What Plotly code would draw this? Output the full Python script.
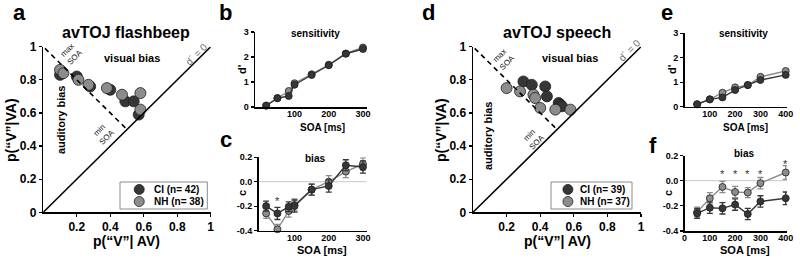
import plotly.graph_objects as go

W, H = 800, 258
FONT = "Arial, 'Liberation Sans', Helvetica, sans-serif"
DARK = "#363636"
GRAY = "#8c8c8c"
EDGE = "#1e1e1e"

# ---------------- data ----------------
# panel a: avTOJ flashbeep, p("V"|AV) vs p("V"|VA)
a_ci_x = [0.10, 0.11, 0.20, 0.28, 0.40, 0.49, 0.54, 0.57]
a_ci_y = [0.83, 0.85, 0.82, 0.76, 0.74, 0.67, 0.67, 0.59]
a_nh_x = [0.10, 0.12, 0.21, 0.27, 0.38, 0.47, 0.58, 0.58]
a_nh_y = [0.86, 0.84, 0.80, 0.77, 0.75, 0.71, 0.72, 0.62]

# panel d: avTOJ speech
d_ci_x = [0.30, 0.35, 0.43, 0.44, 0.51, 0.52, 0.53]
d_ci_y = [0.79, 0.77, 0.76, 0.70, 0.66, 0.65, 0.64]
d_nh_x = [0.20, 0.28, 0.36, 0.37, 0.40, 0.49, 0.58]
d_nh_y = [0.75, 0.73, 0.71, 0.69, 0.63, 0.62, 0.62]

# panels b, c: flashbeep sensitivity / bias
soa_fb = [17, 50, 83, 100, 150, 200, 250, 300]
b_ci = [0.05, 0.35, 0.44, 0.89, 1.28, 1.67, 2.13, 2.32]
b_nh = [0.06, 0.36, 0.64, 0.95, 1.31, 1.69, 2.14, 2.38]
c_ci = [-0.20, -0.26, -0.205, -0.20, -0.065, -0.035, 0.135, 0.12]
c_nh = [-0.26, -0.39, -0.24, -0.19, -0.065, 0.0, 0.083, 0.145]
c_ci_err = [0.04, 0.05, 0.04, 0.05, 0.045, 0.05, 0.045, 0.05]
c_nh_err = [0.04, 0.04, 0.05, 0.05, 0.045, 0.05, 0.05, 0.05]
sig_c_soa = [50]
sig_c_y = [-0.16]

# panels e, f: speech sensitivity / bias
soa_sp = [50, 100, 150, 200, 250, 300, 400]
e_ci = [0.10, 0.30, 0.38, 0.68, 0.89, 1.09, 1.30]
e_nh = [0.10, 0.30, 0.57, 0.79, 0.88, 1.22, 1.46]
f_ci = [-0.26, -0.215, -0.22, -0.19, -0.265, -0.165, -0.14]
f_nh = [-0.25, -0.14, -0.05, -0.09, -0.095, -0.02, 0.065]
f_ci_err = [0.04, 0.045, 0.045, 0.045, 0.045, 0.045, 0.05]
f_nh_err = [0.04, 0.045, 0.045, 0.045, 0.04, 0.045, 0.055]
sig_f_soa = [150, 200, 250, 300, 400]
sig_f_y = [0.055, 0.055, 0.055, 0.055, 0.135]

legend_a = ["CI (n= 42)", "NH (n= 38)"]
legend_d = ["CI (n= 39)", "NH (n= 37)"]


# ---------------- helpers ----------------
def fx(px):
    return px / W


def fy(py):
    return 1 - py / H


def axis(dom_px, rng, tickvals, ticktext=None, size=9, vertical=False, anchor=None,
         ticklen=3, standoff=0):
    if vertical:
        dom = [fy(dom_px[1]), fy(dom_px[0])]
    else:
        dom = [fx(dom_px[0]), fx(dom_px[1])]
    d = dict(domain=dom, range=rng, tickvals=tickvals, showline=True,
             linecolor="black", linewidth=1.5,
             ticks="outside" if ticklen > 0 else "", ticklen=ticklen,
             tickwidth=1.2, tickcolor="black", showgrid=False, zeroline=False,
             fixedrange=True, anchor=anchor, automargin=False,
             ticklabelstandoff=standoff,
             tickfont=dict(family=FONT, size=size, color="black", weight="bold"))
    if ticktext is not None:
        d["ticktext"] = ticktext
    return d


fig = go.Figure()


def scatter_panel(xs, ys, color, xa, ya, size=11):
    fig.add_trace(go.Scatter(x=xs, y=ys, mode="markers", xaxis=xa, yaxis=ya,
                             marker=dict(size=size, color=color,
                                         line=dict(color=EDGE, width=0.8)),
                             showlegend=False, cliponaxis=False, hoverinfo="skip"))


def line_panel(xs, ys, color, xa, ya, err=None):
    kw = {}
    if err is not None:
        kw["error_y"] = dict(type="data", array=err, color=color, thickness=1.3, width=3)
    fig.add_trace(go.Scatter(x=xs, y=ys, mode="lines+markers", xaxis=xa, yaxis=ya,
                             line=dict(color=color, width=1.4),
                             marker=dict(size=7, color=color,
                                         line=dict(color=EDGE, width=0.8)),
                             showlegend=False, cliponaxis=False, hoverinfo="skip", **kw))


# panel a / d scatter
scatter_panel(a_ci_x, a_ci_y, DARK, "x", "y")
scatter_panel(a_nh_x, a_nh_y, GRAY, "x", "y")
scatter_panel(d_ci_x, d_ci_y, DARK, "x4", "y4")
scatter_panel(d_nh_x, d_nh_y, GRAY, "x4", "y4")

# legend symbols for a and d (drawn in panel coordinates)
for xa, ya, lx in (("x", "y", 0.573), ("x4", "y4", 0.565)):
    fig.add_trace(go.Scatter(x=[lx, lx], y=[0.138, 0.065], mode="markers",
                             xaxis=xa, yaxis=ya,
                             marker=dict(size=10, color=[DARK, GRAY],
                                         line=dict(color=EDGE, width=0.8)),
                             showlegend=False, cliponaxis=False, hoverinfo="skip"))

# panel b / e
line_panel(soa_fb, b_nh, GRAY, "x2", "y2")
line_panel(soa_fb, b_ci, DARK, "x2", "y2")
line_panel(soa_sp, e_nh, GRAY, "x5", "y5")
line_panel(soa_sp, e_ci, DARK, "x5", "y5")

# panel c / f
line_panel(soa_fb, c_nh, GRAY, "x3", "y3", c_nh_err)
line_panel(soa_fb, c_ci, DARK, "x3", "y3", c_ci_err)
line_panel(soa_sp, f_nh, GRAY, "x6", "y6", f_nh_err)
line_panel(soa_sp, f_ci, DARK, "x6", "y6", f_ci_err)

# ---------------- axes ----------------
yA = [46.7, 212.3]
xa_a = axis([43.3, 210.7], [0, 1], [0.2, 0.4, 0.6, 0.8, 1], ["0.2", "0.4", "0.6", "0.8", "1"], size=12, anchor="y")
ya_a = axis(yA, [0, 1], [0, 0.2, 0.4, 0.6, 0.8, 1], ["0", "0.2", "0.4", "0.6", "0.8", "1"], size=12, vertical=True, anchor="x")
xa_d = axis([473, 641], [0, 1], [0.2, 0.4, 0.6, 0.8, 1], ["0.2", "0.4", "0.6", "0.8", "1"], size=12, anchor="y4")
ya_d = axis(yA, [0, 1], [0, 0.2, 0.4, 0.6, 0.8, 1], ["0", "0.2", "0.4", "0.6", "0.8", "1"], size=12, vertical=True, anchor="x4")

xa_b = axis([255, 366.7], [-15.6, 311], [100, 200, 300], anchor="y2", ticklen=0, standoff=-2)
ya_b = axis([32, 107], [0, 3], [0, 1, 2, 3], vertical=True, anchor="x2")
xa_c = axis([258.5, 366.7], [-5.3, 311], [100, 200, 300], anchor="y3", ticklen=0, standoff=-2)
ya_c = axis([157.3, 230.5], [-0.4, 0.2], [-0.4, -0.2, 0, 0.2], ["-0.4", "-0.2", "0.0", "0.2"], vertical=True, anchor="x3")

xa_e = axis([684.5, 787], [0, 405], [100, 200, 300, 400], anchor="y5", ticklen=0, standoff=-2)
ya_e = axis([33.3, 106.7], [0, 3], [0, 1, 2, 3], vertical=True, anchor="x5")
xa_f = axis([684.5, 787], [0, 405], [0, 100, 200, 300, 400], anchor="y6", ticklen=0, standoff=-2)
ya_f = axis([155.5, 231], [-0.4, 0.2], [-0.4, -0.2, 0, 0.2], ["-0.4", "-0.2", "0.0", "0.2"], vertical=True, anchor="x6")

fig.update_layout(
    template="none",
    width=W, height=H, margin=dict(l=0, r=0, t=0, b=0, pad=0), autosize=False,
    paper_bgcolor="white", plot_bgcolor="rgba(0,0,0,0)", showlegend=False,
    font=dict(family=FONT, color="black"),
    xaxis=xa_a, yaxis=ya_a, xaxis2=xa_b, yaxis2=ya_b, xaxis3=xa_c, yaxis3=ya_c,
    xaxis4=xa_d, yaxis4=ya_d, xaxis5=xa_e, yaxis5=ya_e, xaxis6=xa_f, yaxis6=ya_f,
)

shapes = []
for xr, yr in (("x", "y"), ("x4", "y4")):
    shapes.append(dict(type="line", xref=xr, yref=yr, x0=0, y0=0, x1=1, y1=1,
                       line=dict(color="black", width=1.6)))
    shapes.append(dict(type="line", xref=xr, yref=yr, x0=0.01, y0=0.99, x1=0.49, y1=0.51,
                       line=dict(color="black", width=1.6, dash="5px,4px")))
# zero lines in bias panels
shapes.append(dict(type="line", xref="x3", yref="y3", x0=-5.3, x1=311, y0=0, y1=0,
                   line=dict(color="#c8c8c8", width=1), layer="below"))
shapes.append(dict(type="line", xref="x6", yref="y6", x0=0, x1=405, y0=0, y1=0,
                   line=dict(color="#c8c8c8", width=1), layer="below"))
# legend boxes
for (x0, x1) in ((120, 207.3), (551, 632)):
    shapes.append(dict(type="rect", xref="paper", yref="paper",
                       x0=fx(x0), x1=fx(x1), y0=fy(209), y1=fy(182),
                       line=dict(color="#8a8a8a", width=1), fillcolor="rgba(0,0,0,0)"))
fig.update_layout(shapes=shapes)

ann = []


def txt(x, y, s, size=10, bold=True, angle=0, color="black", xanchor="center", yanchor="middle"):
    ann.append(dict(x=fx(x), y=fy(y), xref="paper", yref="paper", text=s, showarrow=False,
                    textangle=angle, xanchor=xanchor, yanchor=yanchor,
                    font=dict(family=FONT, size=size, color=color,
                              weight="bold" if bold else "normal")))


# panel letters
txt(19, 13, "a", 22)
txt(226, 13, "b", 22)
txt(226, 139, "c", 22)
txt(428, 13, "d", 22)
txt(667, 13, "e", 22)
txt(653, 145, "f", 22)

# titles
txt(126, 32, "avTOJ flashbeep", 16)
txt(557, 32, "avTOJ speech", 16)

# axis titles a/d
txt(11, 130, "p(“V”|VA)", 14, angle=-90)
txt(126, 241, "p(“V”| AV)", 14)
txt(441, 130, "p(“V”|VA)", 14, angle=-90)
txt(557, 241, "p(“V”| AV)", 14)

# in-panel annotations a/d
txt(132, 58, "visual bias", 11)
txt(570, 58, "visual bias", 11)
txt(61, 120, "auditory bias", 11, angle=-90)
txt(488, 136, "auditory bias", 11, angle=-90)
txt(71, 53, "max<br>SOA", 8, bold=False, angle=-45, color="#111")
txt(504, 59, "max<br>SOA", 8, bold=False, angle=-45, color="#111")
txt(103, 133, "min<br>SOA", 8, bold=False, angle=-45, color="#111")
txt(533, 138, "min<br>SOA", 8, bold=False, angle=-45, color="#111")
txt(196, 54, "d´ = 0", 10, bold=False, angle=-45, color="#666666")
txt(629, 50, "d´ = 0", 10, bold=False, angle=-45, color="#666666")

# legend text
for i, s in enumerate(legend_a):
    txt(151.7, 189.5 + 12 * i, s, 10, xanchor="left")
for i, s in enumerate(legend_d):
    txt(578, 189.5 + 12 * i, s, 10, xanchor="left")

# small panel labels
txt(315, 33, "sensitivity", 10)
txt(743, 33, "sensitivity", 10)
txt(315, 158, "bias", 10)
txt(744, 153, "bias", 10)
txt(242, 69, "d'", 11, angle=-90)
txt(672, 69, "d'", 11, angle=-90)
txt(242, 193, "c", 11, angle=-90)
txt(668, 193, "c", 11, angle=-90)
txt(322, 127.5, "SOA [ms]", 10)
txt(745, 127.5, "SOA [ms]", 10)
txt(322, 249.5, "SOA [ms]", 11)
txt(745, 249.5, "SOA [ms]", 11)

# significance asterisks
for sx, sy in zip(sig_c_soa, sig_c_y):
    ann.append(dict(x=sx, y=sy, xref="x3", yref="y3", text="*", showarrow=False,
                    font=dict(family=FONT, size=11, color="#333")))
for sx, sy in zip(sig_f_soa, sig_f_y):
    ann.append(dict(x=sx, y=sy, xref="x6", yref="y6", text="*", showarrow=False,
                    font=dict(family=FONT, size=11, color="#333")))

fig.update_layout(annotations=ann)
fig.write_html("out.html", config={"displayModeBar": False, "staticPlot": True},
               post_script="document.body.style.margin='0px';document.body.style.padding='0px';")
